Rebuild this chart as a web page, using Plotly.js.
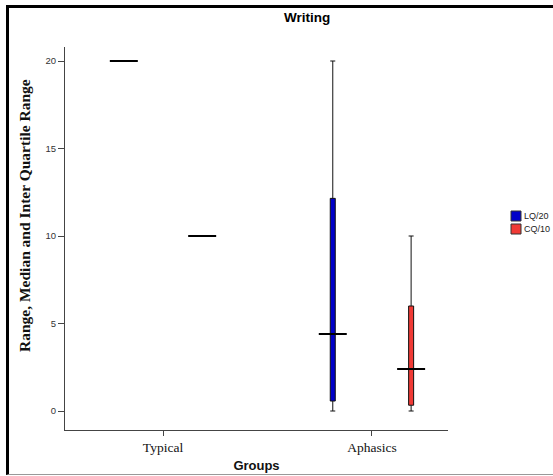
<!DOCTYPE html>
<html>
<head>
<meta charset="utf-8">
<script src="https://cdn.plot.ly/plotly-3.0.1.min.js"></script>
<style>
  html, body { margin: 0; padding: 0; background: #fff; }
  #wrap { position: relative; width: 553px; height: 476px; overflow: hidden; }
  #chart { position: absolute; left: 0; top: 0; width: 553px; height: 476px; }
  #frame { position: absolute; left: 6px; top: 5px; width: 600px; height: 466px;
           border-left: 3px solid #000; border-top: 3px solid #000; border-bottom: 1px solid #999;
           pointer-events: none; }
</style>
</head>
<body>
<div id="wrap">
  <div id="chart"></div>
  <div id="frame"></div>
</div>
<script>
// ---- data ----
const groups = ['Typical', 'Aphasics'];
const seriesNames = ['LQ/20', 'CQ/10'];
const seriesColors = ['#0000c8', '#f03a35'];

const lqMin = [20, 0];
const lqQ1 = [20, 0.57];
const lqMedian = [20, 4.4];
const lqQ3 = [20, 12.15];
const lqMax = [20, 20];

const cqMin = [10, 0];
const cqQ1 = [10, 0.33];
const cqMedian = [10, 2.4];
const cqQ3 = [10, 6.0];
const cqMax = [10, 10];

const yTicks = [0, 5, 10, 15, 20];

const series = [
  {min: lqMin, q1: lqQ1, med: lqMedian, q3: lqQ3, max: lqMax},
  {min: cqMin, q1: cqQ1, med: cqMedian, q3: cqQ3, max: cqMax}
];

const traces = [];
series.forEach((s, i) => {
  traces.push({
    type: 'box',
    name: seriesNames[i],
    x: groups,
    q1: s.q1, median: s.med, q3: s.q3,
    lowerfence: s.min, upperfence: s.max,
    offsetgroup: 'g' + i,
    boxpoints: false,
    fillcolor: seriesColors[i],
    line: {color: '#111', width: 1},
    whiskerwidth: 1,
    showlegend: false,
    hoverinfo: 'skip'
  });
});
series.forEach((s, i) => {
  traces.push({
    type: 'scatter',
    mode: 'markers',
    x: groups,
    y: s.med,
    offsetgroup: 'g' + i,
    marker: {symbol: 'line-ew', size: 20, color: '#000', line: {color: '#000', width: 2}},
    showlegend: false,
    hoverinfo: 'skip'
  });
});

// legend drawn as swatches + labels
const shapes = [];
const annotations = [
  {text: '<b>Writing</b>', xref: 'paper', yref: 'paper', x: (307 - 65) / 383, y: 1 + (47 - 17) / 383,
   showarrow: false, xanchor: 'center', yanchor: 'middle',
   font: {family: 'Liberation Sans, Arial', size: 13.5, color: '#000'}},
  {text: '<b>Range, Median and Inter Quartile Range</b>', xref: 'paper', yref: 'paper',
   x: (24 - 65) / 383, y: (430 - 216) / 383, textangle: -90,
   showarrow: false, xanchor: 'center', yanchor: 'middle',
   font: {family: 'Liberation Serif, Times New Roman', size: 15.5, color: '#111'}}
];
seriesNames.forEach((n, i) => {
  const cy = 216 + i * 13;
  shapes.push({type: 'rect', xref: 'paper', yref: 'paper',
    x0: (511 - 65) / 383, x1: (521 - 65) / 383,
    y0: (430 - (cy + 5)) / 383, y1: (430 - (cy - 5)) / 383,
    fillcolor: seriesColors[i], line: {color: '#333', width: 1}});
  annotations.push({text: n, xref: 'paper', yref: 'paper',
    x: (522 - 65) / 383, y: (430 - cy) / 383, xanchor: 'left', yanchor: 'middle',
    showarrow: false, font: {family: 'Liberation Sans, Arial', size: 9, color: '#222'}});
});

const layout = {
  width: 553, height: 476,
  margin: {l: 65, r: 105, t: 47, b: 46},
  paper_bgcolor: '#fff', plot_bgcolor: '#fff',
  showlegend: false,
  boxmode: 'group', boxgap: 0.25, boxgroupgap: 0.936,
  scattermode: 'group', scattergap: 0.25,
  xaxis: {
    type: 'category',
    range: [-0.469, 1.364],
    showgrid: false, zeroline: false,
    showline: true, linecolor: '#444', linewidth: 1,
    ticks: 'outside', ticklen: 5, tickcolor: '#444',
    tickfont: {family: 'Liberation Serif, Times New Roman', size: 13.5, color: '#111'},
    title: {text: '<b>Groups</b>', standoff: 6,
            font: {family: 'Liberation Sans, Arial', size: 13, color: '#111'}}
  },
  yaxis: {
    range: [-1.086, 20.8],
    tickvals: yTicks,
    showgrid: false, zeroline: false,
    showline: true, linecolor: '#444', linewidth: 1,
    ticks: 'outside', ticklen: 6, tickcolor: '#444',
    tickfont: {family: 'Liberation Sans, Arial', size: 9.5, color: '#333'}
  },
  shapes: shapes,
  annotations: annotations
};

Plotly.newPlot('chart', traces, layout, {displayModeBar: false, staticPlot: true});
</script>
</body>
</html>
